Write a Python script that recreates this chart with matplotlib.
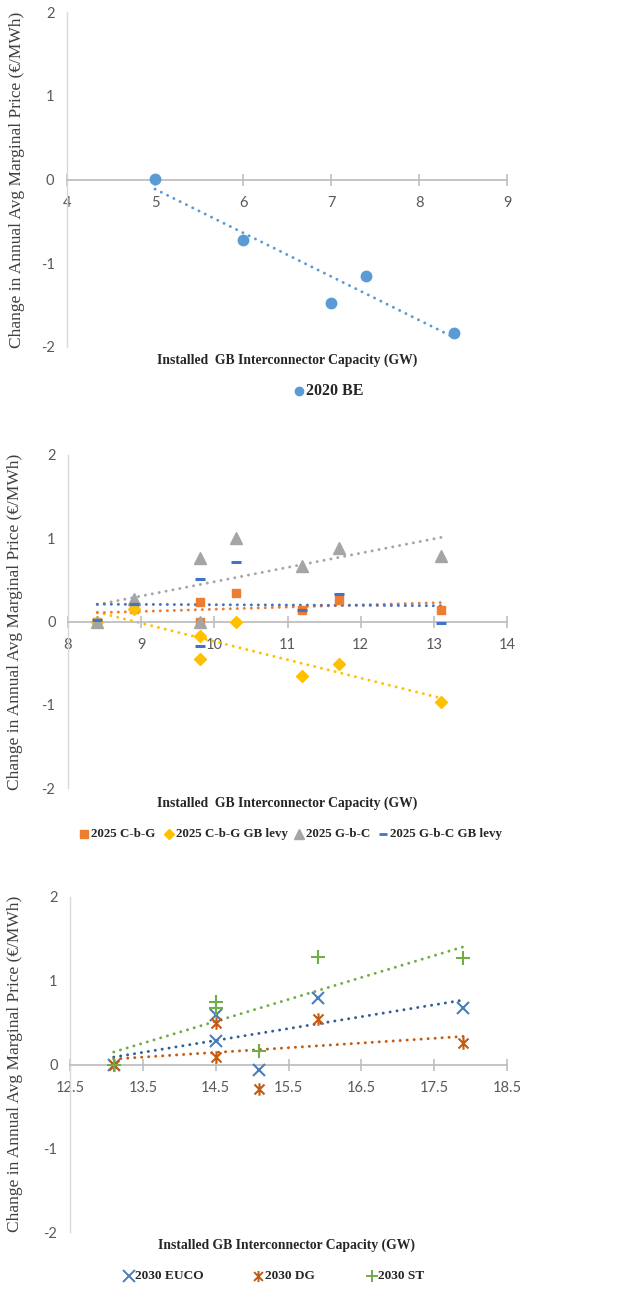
import numpy as np
import matplotlib
matplotlib.use("Agg")
import matplotlib.pyplot as plt
from matplotlib.path import Path
from matplotlib.lines import Line2D

# ---------------- data ----------------
# Panel 1 (2020)
p1_x = [5.0, 6.0, 7.0, 7.4, 8.4]
p1_be = [0.01, -0.72, -1.47, -1.15, -1.83]

# Panel 2 (2025)
p2_x = [8.4, 8.9, 9.8, 9.8, 10.3, 11.2, 11.7, 13.1]
p2_cbg = [0.0, 0.15, 0.23, 0.0, 0.34, 0.14, 0.26, 0.14]
p2_cbg_levy = [0.0, 0.15, -0.18, -0.45, -0.01, -0.65, -0.51, -0.97]
p2_gbc = [0.0, 0.27, 0.76, 0.0, 1.00, 0.67, 0.88, 0.79]
p2_gbc_levy = [0.02, 0.21, 0.51, -0.30, 0.71, 0.14, 0.33, -0.02]

# Panel 3 (2030)
p3_x = [13.1, 14.5, 14.5, 15.1, 15.9, 17.9]
p3_euco = [0.0, 0.59, 0.28, -0.06, 0.80, 0.68]
p3_dg = [0.0, 0.49, 0.09, -0.29, 0.54, 0.26]
p3_st = [0.0, 0.75, 0.68, 0.16, 1.28, 1.27]

y_ticks = [-2, -1, 0, 1, 2]
p1_xticks = [4, 5, 6, 7, 8, 9]
p2_xticks = [8, 9, 10, 11, 12, 13, 14]
p3_xticks = [12.5, 13.5, 14.5, 15.5, 16.5, 17.5, 18.5]

p1_names = ["2020 BE"]
p2_names = ["2025 C-b-G", "2025 C-b-G GB levy", "2025 G-b-C", "2025 G-b-C GB levy"]
p3_names = ["2030 EUCO", "2030 DG", "2030 ST"]

ylabel = "Change in Annual Avg Marginal Price (€/MWh)"
xlabel12 = "Installed  GB Interconnector Capacity (GW)"
xlabel3 = "Installed GB Interconnector Capacity (GW)"

# ---------------- style ----------------
W, H = 627, 1293
fig = plt.figure(figsize=(W / 100, H / 100), dpi=100)

TICK_FONT = "Lato"
LABEL_FONT = "Liberation Serif"
TICK_COLOR = "#595959"
AXIS_COLOR = "#BFBFBF"

asterisk = Path([(-1, -1), (1, 1), (-1, 1), (1, -1), (0, -1.25), (0, 1.25)],
                [Path.MOVETO, Path.LINETO, Path.MOVETO, Path.LINETO, Path.MOVETO, Path.LINETO])


def ax_px(l, t, r, b):
    return fig.add_axes([l / W, 1 - b / H, (r - l) / W, (b - t) / H])


def setup(ax, xlim, xticks, xfmt):
    ax.set_xlim(*xlim)
    ax.set_ylim(-2, 2)
    for s in ("top", "right"):
        ax.spines[s].set_visible(False)
    ax.spines["bottom"].set_position(("data", 0))
    ax.spines["bottom"].set_color(AXIS_COLOR)
    ax.spines["bottom"].set_linewidth(1.3)
    ax.spines["left"].set_color("#D9D9D9")
    ax.spines["left"].set_linewidth(1.0)
    ax.set_xticks(xticks)
    ax.set_xticklabels([xfmt(v) for v in xticks])
    ax.set_yticks(y_ticks)
    ax.set_yticklabels([str(v) for v in y_ticks])
    ax.tick_params(axis="x", direction="inout", length=8, width=1.2, color=AXIS_COLOR,
                   pad=8, labelsize=10.5, labelcolor=TICK_COLOR)
    ax.tick_params(axis="y", length=0, pad=9, labelsize=10.5, labelcolor=TICK_COLOR)
    for lab in ax.get_xticklabels() + ax.get_yticklabels():
        lab.set_fontfamily(TICK_FONT)
    ax.patch.set_alpha(0)


def trend(ax, x, y, color):
    x = np.asarray(x, float)
    y = np.asarray(y, float)
    m, c = np.polyfit(x, y, 1)
    xs = np.array([x.min(), x.max()])
    ax.plot(xs, m * xs + c, color=color, lw=2.1, linestyle=(0, (0.05, 2.35)),
            dash_capstyle="round", zorder=2)


def labels(ax_center_y, xlab, xlab_y, ylab_x=17):
    fig.text(ylab_x / W, 1 - ax_center_y / H, ylabel, rotation=90, ha="center", va="center",
             fontsize=12.5, family=LABEL_FONT, color="#404040")
    fig.text(287 / W, 1 - xlab_y / H, xlab, ha="center", va="center",
             fontsize=9.8, family=LABEL_FONT, weight="bold", color="#262626")


def manual_legend(items, y, size):
    # items: list of (marker_x_px, text_x_px, marker_kwargs, text)
    for mx, tx, mk, txt in items:
        fig.add_artist(Line2D([mx / W], [1 - y / H], transform=fig.transFigure,
                              linestyle="none", **mk))
        fig.text(tx / W, 1 - y / H, txt, ha="left", va="center", fontsize=size,
                 family=LABEL_FONT, weight="bold", color="#262626")


# ---------------- panel 1 ----------------
ax1 = ax_px(67, 12, 507, 347)
setup(ax1, (4, 9), p1_xticks, lambda v: str(int(v)))
c1 = "#5B9BD5"
trend(ax1, p1_x, p1_be, c1)
ax1.plot(p1_x, p1_be, "o", color=c1, ms=7.5, zorder=3, linestyle="none")
labels(179.5, xlabel12, 360)
manual_legend([(299, 306, dict(marker="o", color=c1, ms=6), p1_names[0])], 391, 11.5)

# ---------------- panel 2 ----------------
ax2 = ax_px(68, 455, 507, 788)
setup(ax2, (8, 14), p2_xticks, lambda v: str(int(v)))
c_or, c_ye, c_gr, c_bl = "#ED7D31", "#FFC000", "#A5A5A5", "#4472C4"
trend(ax2, p2_x, p2_cbg_levy, c_ye)
trend(ax2, p2_x, p2_gbc, c_gr)
trend(ax2, p2_x, p2_cbg, c_or)
trend(ax2, p2_x, p2_gbc_levy, c_bl)
ax2.plot(p2_x, p2_cbg, "s", color=c_or, ms=6, linestyle="none", zorder=3)
ax2.plot(p2_x, p2_cbg_levy, "D", color=c_ye, ms=6, linestyle="none", zorder=3)
ax2.plot(p2_x, p2_gbc, "^", color=c_gr, ms=8.5, linestyle="none", zorder=3)
ax2.plot(p2_x, p2_gbc_levy, "_", color=c_bl, ms=7, mew=2.2, linestyle="none", zorder=4)
labels(621.5, xlabel12, 803, ylab_x=15)
manual_legend([
    (84, 91, dict(marker="s", color=c_or, ms=5.5), p2_names[0]),
    (169, 176, dict(marker="D", color=c_ye, ms=5.5), p2_names[1]),
    (299, 306, dict(marker="^", color=c_gr, ms=7.5), p2_names[2]),
    (383, 390, dict(marker="_", color=c_bl, ms=6, mew=2.0), p2_names[3]),
], 834, 9.4)

# ---------------- panel 3 ----------------
ax3 = ax_px(70, 897, 507, 1232)
setup(ax3, (12.5, 18.5), p3_xticks, lambda v: f"{v:.1f}")
c_eu, c_eut, c_dg, c_st = "#4A7EBB", "#2E5F96", "#C55A11", "#70AD47"
trend(ax3, p3_x, p3_st, c_st)
trend(ax3, p3_x, p3_euco, c_eut)
trend(ax3, p3_x, p3_dg, c_dg)
ax3.plot(p3_x, p3_euco, "x", color=c_eu, ms=9, mew=1.5, linestyle="none", zorder=3)
ax3.plot(p3_x, p3_dg, marker=asterisk, color=c_dg, ms=9, mew=1.5, linestyle="none", zorder=3)
ax3.plot(p3_x, p3_st, "+", color=c_st, ms=10, mew=1.5, linestyle="none", zorder=3)
labels(1063.5, xlabel3, 1245, ylab_x=15)
manual_legend([
    (129, 135, dict(marker="x", color=c_eu, ms=8, mew=1.4), p3_names[0]),
    (258, 265, dict(marker=asterisk, color=c_dg, ms=8, mew=1.4), p3_names[1]),
    (372, 378, dict(marker="+", color=c_st, ms=9, mew=1.4), p3_names[2]),
], 1276, 9.6)

fig.savefig("out.png", dpi=100)
